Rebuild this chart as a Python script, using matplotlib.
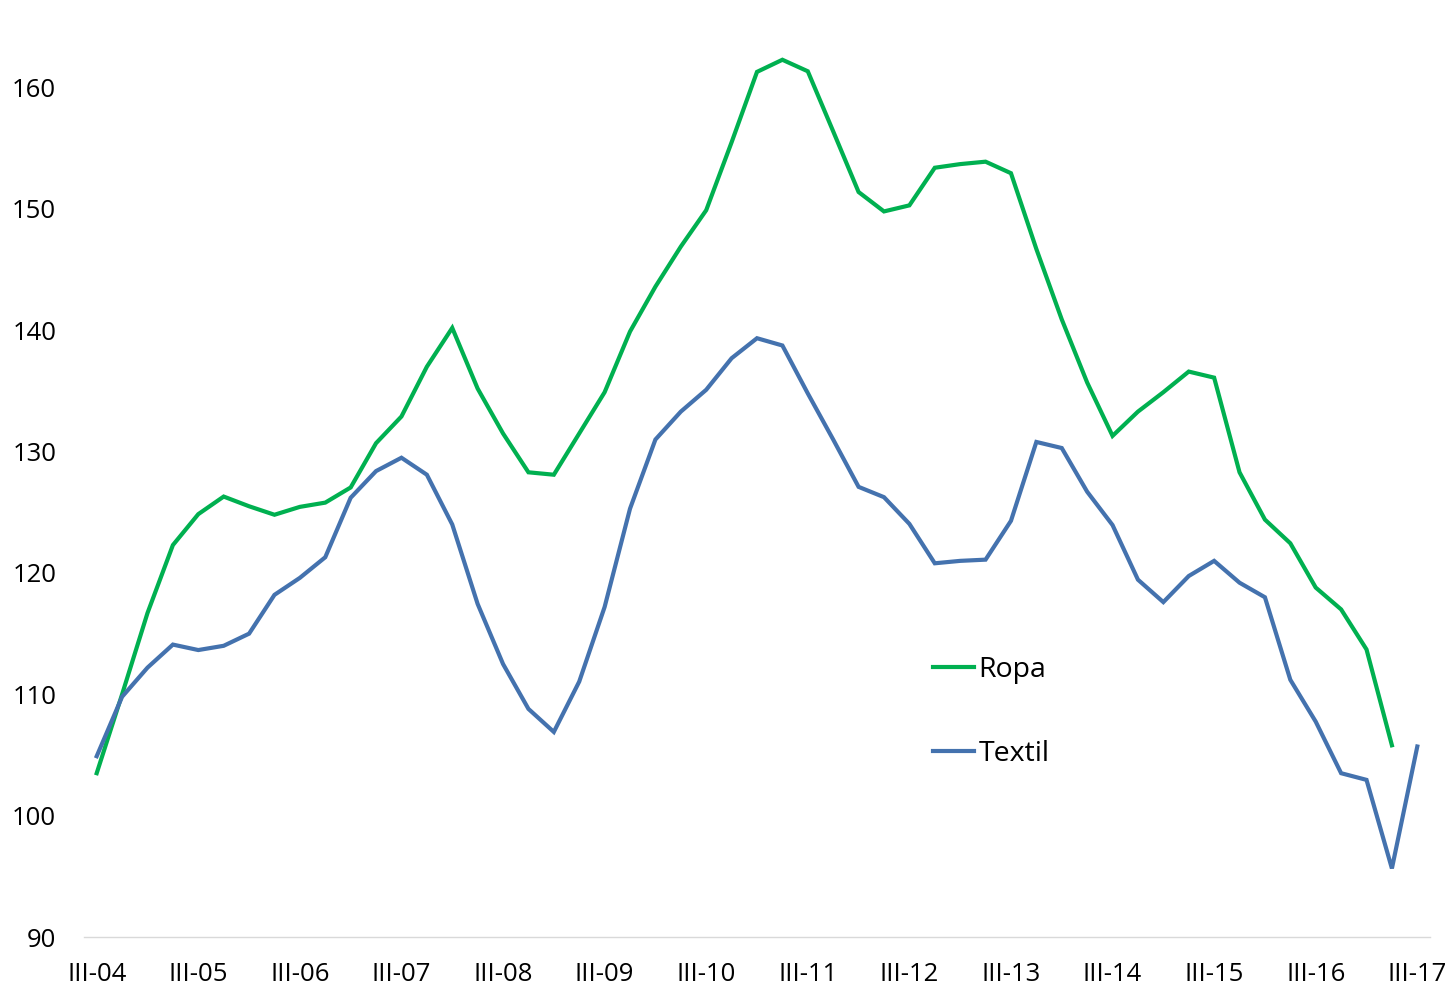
import matplotlib
matplotlib.use("Agg")
import matplotlib.pyplot as plt
import numpy as np

quarters = ["III-04", "IV-04", "I-05", "II-05", "III-05", "IV-05", "I-06", "II-06",
            "III-06", "IV-06", "I-07", "II-07", "III-07", "IV-07", "I-08", "II-08",
            "III-08", "IV-08", "I-09", "II-09", "III-09", "IV-09", "I-10", "II-10",
            "III-10", "IV-10", "I-11", "II-11", "III-11", "IV-11", "I-12", "II-12",
            "III-12", "IV-12", "I-13", "II-13", "III-13", "IV-13", "I-14", "II-14",
            "III-14", "IV-14", "I-15", "II-15", "III-15", "IV-15", "I-16", "II-16",
            "III-16", "IV-16", "I-17", "II-17", "III-17"]

ropa = [103.5, 110.0, 116.7, 122.3, 124.85, 126.3, 125.5, 124.8, 125.45, 125.8,
        127.05, 130.7, 132.9, 137.0, 140.2, 135.2, 131.5, 128.3, 128.1, 131.5,
        134.9, 139.9, 143.6, 146.9, 149.9, 155.5, 161.3, 162.3, 161.35, 156.4,
        151.4, 149.8, 150.3, 153.4, 153.7, 153.9, 152.95, 146.7, 140.9, 135.7,
        131.3, 133.3, 134.9, 136.6, 136.1, 128.3, 124.4, 122.45, 118.8, 117.0,
        113.7, 105.8, np.nan]

textil = [104.9, 109.8, 112.2, 114.1, 113.65, 114.0, 115.0, 118.2, 119.6, 121.3,
          126.2, 128.4, 129.5, 128.1, 124.0, 117.45, 112.5, 108.8, 106.9, 111.05,
          117.2, 125.3, 131.0, 133.3, 135.1, 137.7, 139.35, 138.75, 134.8, 131.0,
          127.1, 126.25, 124.05, 120.8, 121.0, 121.1, 124.3, 130.8, 130.3, 126.7,
          123.95, 119.45, 117.6, 119.75, 121.0, 119.2, 118.0, 111.2, 107.75, 103.5,
          102.95, 95.65, 105.7]

y_ticks = [90, 100, 110, 120, 130, 140, 150, 160]

plt.rcParams['font.family'] = ['Open Sans', 'DejaVu Sans']

W, H = 1451, 988
fig = plt.figure(figsize=(W / 100, H / 100), dpi=100)
ax = fig.add_axes([84 / W, 1 - 937 / H, (1430 - 84) / W, (937 - 27) / H])

x = np.arange(len(quarters))
ax.plot(x, ropa, color='#00B050', lw=3.0, label='Ropa', solid_joinstyle='miter')
ax.plot(x, textil, color='#4472AE', lw=3.0, label='Textil', solid_joinstyle='miter')

ax.set_xlim(-0.5, len(quarters) - 0.5)
ax.set_ylim(90, 165)
ax.set_yticks(y_ticks)
ax.set_yticklabels([str(v) for v in y_ticks])
tick_pos = x[::4]
ax.set_xticks(tick_pos)
ax.set_xticklabels([quarters[i] for i in tick_pos])

for s in ['top', 'right', 'left']:
    ax.spines[s].set_visible(False)
ax.spines['bottom'].set_color('#D9D9D9')
ax.spines['bottom'].set_linewidth(1.0)
ax.tick_params(axis='both', length=0, labelsize=18.5, colors='black')
ax.tick_params(axis='x', pad=18)
ax.tick_params(axis='y', pad=20)

leg = ax.legend(loc='upper left', bbox_to_anchor=(933 / W, 1 - 656 / H),
                bbox_transform=fig.transFigure, frameon=False, fontsize=20.5,
                handlelength=1.45, handletextpad=0.15, labelspacing=1.95,
                borderpad=0, borderaxespad=0)

fig.savefig('out.png', dpi=100)
